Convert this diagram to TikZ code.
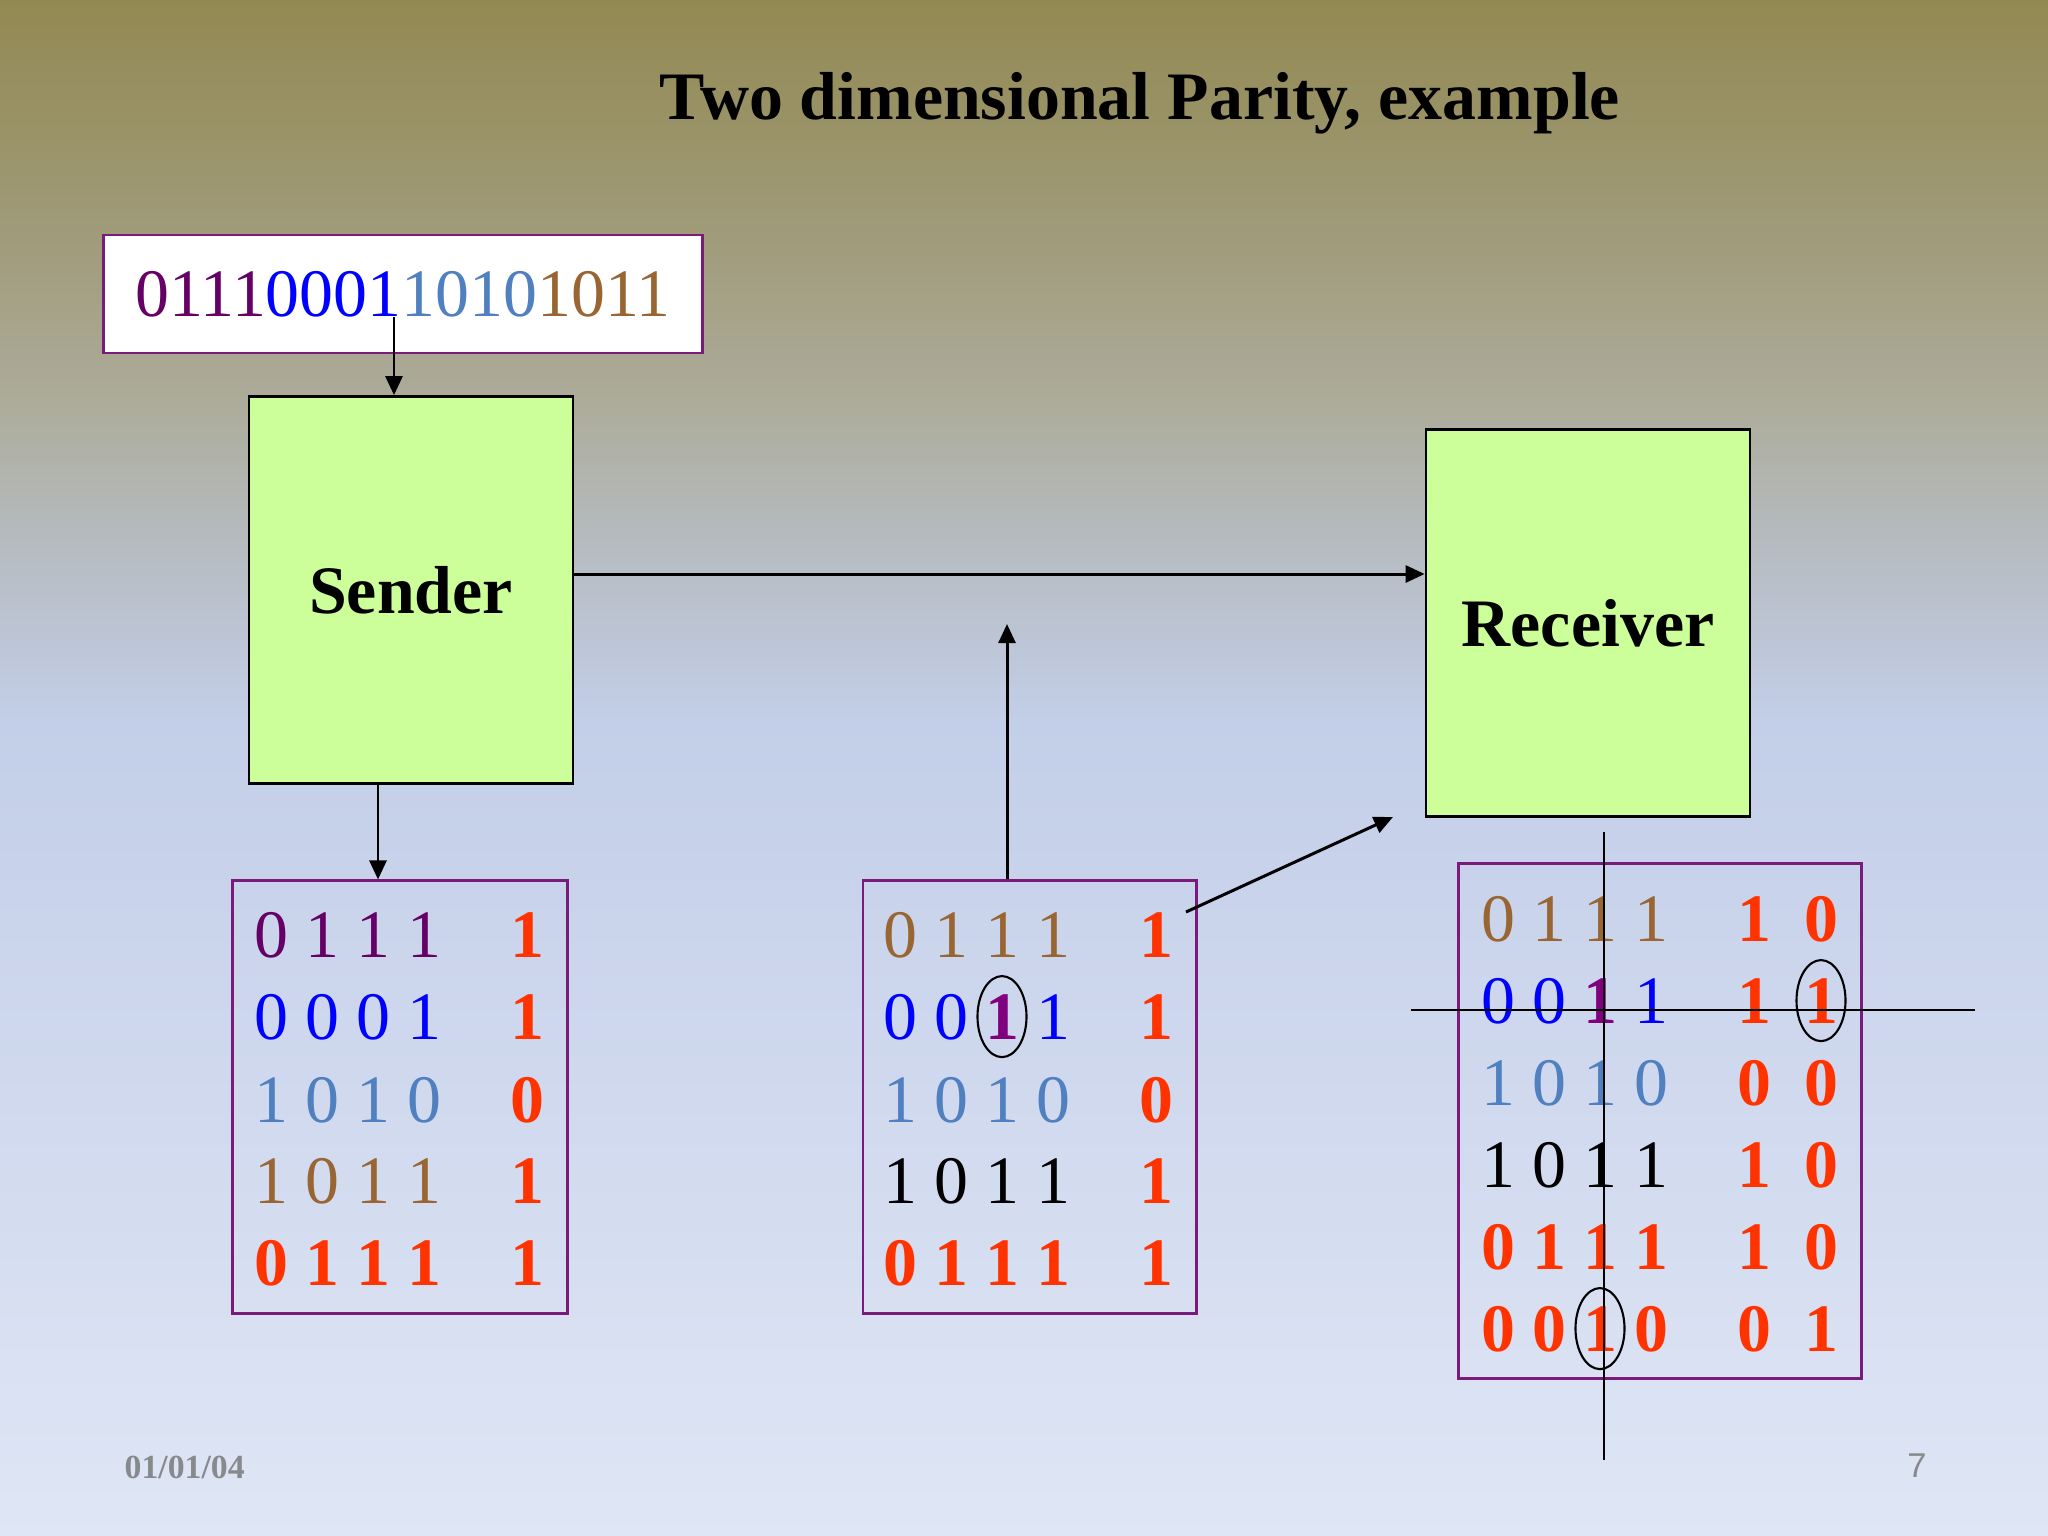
\documentclass[tikz,border=0pt]{standalone}
\usepackage{fontspec}
\setmainfont{Liberation Serif}
\newfontfamily\pagenumfont{Liberation Sans}
\usetikzlibrary{arrows.meta,shapes.geometric}

\definecolor{bgA}{HTML}{928952}
\definecolor{bgB}{HTML}{A19C7C}
\definecolor{bgC}{HTML}{AEAE9F}
\definecolor{bgD}{HTML}{B7BDC4}
\definecolor{bgE}{HTML}{C3CEE8}
\definecolor{bgF}{HTML}{DFE6F5}
\definecolor{bitpurple}{HTML}{660066}
\definecolor{bitblue}{HTML}{0000FF}
\definecolor{bitsteel}{HTML}{5080BF}
\definecolor{bitbrown}{HTML}{996633}
\definecolor{bitred}{HTML}{FF3300}
\definecolor{flipcol}{HTML}{800080}
\definecolor{boxgreen}{HTML}{CCFF99}
\definecolor{gridline}{HTML}{7A1A7A}
\definecolor{footgray}{HTML}{878A8D}

\newcommand{\bigtext}{\fontsize{19.3}{23}\selectfont}
\newcommand{\flipped}[1]{\textcolor{flipcol}{\bfseries #1}}

\tikzset{
  bit/.style={anchor=base, inner sep=0pt},
  checkbit/.style={bit, text=bitred, font=\bigtext\bfseries},
  gridbox/.style={draw=gridline, line width=0.8pt, inner sep=0pt},
  inbox/.style={draw=gridline, fill=white, line width=0.8pt,
    minimum width=5.98cm, minimum height=1.18cm, font=\bigtext},
  station/.style={draw, fill=boxgreen, line width=0.7pt,
    minimum width=3.24cm, minimum height=3.87cm, font=\bigtext\bfseries},
  link/.style={line width=0.85pt, -{Triangle[length=5.4pt,width=4.8pt]}},
  cut/.style={line width=0.75pt},
  ring/.style={draw, ellipse, line width=0.6pt, inner sep=0pt,
    minimum width=0.49cm, minimum height=0.81cm}
}

\begin{document}
\begin{tikzpicture}[x=0.01cm,y=-0.01cm]
\newcommand{\colstep}{51}
\useasboundingbox (0,0) rectangle (2048,1536);

\fill[top color=bgA, bottom color=bgB] (0,0) rectangle (2048,251);
\fill[top color=bgB, bottom color=bgC] (0,250) rectangle (2048,421);
\fill[top color=bgC, bottom color=bgD] (0,420) rectangle (2048,561);
\fill[top color=bgD, bottom color=bgE] (0,560) rectangle (2048,721);
\fill[top color=bgE, bottom color=bgF] (0,720) rectangle (2048,1536);

\node[anchor=base, font=\bigtext\bfseries] (title) at (1140,119) {Two dimensional Parity, example};

\node[inbox] (bits) at (403,294) {\textcolor{bitpurple}{0111}\textcolor{bitblue}{0001}\textcolor{bitsteel}{1010}\textcolor{bitbrown}{1011}};
\node[station] (sender) at (411,590) {Sender};
\node[station] (receiver) at (1588,623) {Receiver};

\node[gridbox, minimum width=3.34cm, minimum height=4.32cm] (sentgrid) at (400,1097) {};
\node[gridbox, minimum width=3.33cm, minimum height=4.32cm] (wiregrid) at (1029.5,1097) {};
\node[gridbox, minimum width=4.02cm, minimum height=5.14cm] (recvgrid) at (1660,1121) {};

\foreach \y/\col/\wt/\bits/\chk [count=\r] in {957/bitpurple/\mdseries/{0,1,1,1}/1,
    1039/bitblue/\mdseries/{0,0,0,1}/1, 1122/bitsteel/\mdseries/{1,0,1,0}/0,
    1203/bitbrown/\mdseries/{1,0,1,1}/1, 1285/bitred/\bfseries/{0,1,1,1}/1}{
  \foreach \b [count=\c] in \bits
    \node[bit, text=\col, font=\bigtext\wt] (s-\r-\c) at ({271+\colstep*(\c-1)},\y) {\b};
  \node[checkbit] (s-\r-p) at (527,\y) {\chk};
}

\foreach \y/\col/\wt/\bits/\chk [count=\r] in {957/bitbrown/\mdseries/{0,1,1,1}/1,
    1039/bitblue/\mdseries/{0,0,\flipped{1},1}/1, 1122/bitsteel/\mdseries/{1,0,1,0}/0,
    1203/black/\mdseries/{1,0,1,1}/1, 1285/bitred/\bfseries/{0,1,1,1}/1}{
  \foreach \b [count=\c] in \bits
    \node[bit, text=\col, font=\bigtext\wt] (w-\r-\c) at ({900+\colstep*(\c-1)},\y) {\b};
  \node[checkbit] (w-\r-p) at (1156,\y) {\chk};
}

\foreach \y/\col/\wt/\bits/\chk [count=\r] in {941/bitbrown/\mdseries/{0,1,1,1}/{1,0},
    1023/bitblue/\mdseries/{0,0,\flipped{1},1}/{1,1}, 1105/bitsteel/\mdseries/{1,0,1,0}/{0,0},
    1187/black/\mdseries/{1,0,1,1}/{1,0}, 1269/bitred/\bfseries/{0,1,1,1}/{1,0},
    1351/bitred/\bfseries/{0,0,1,0}/{0,1}}{
  \foreach \b [count=\c] in \bits
    \node[bit, text=\col, font=\bigtext\wt] (r-\r-\c) at ({1498+\colstep*(\c-1)},\y) {\b};
  \foreach \k [count=\c] in \chk
    \node[checkbit] (r-\r-p\c) at ({1754+67*(\c-1)},\y) {\k};
}

\node[ring] (ring1) at (w-2-3.center) {};
\node[ring] (ring2) at (r-2-p2.center) {};
\node[ring] (ring3) at (r-6-3.center) {};

\coordinate (tap) at (394,317);
\coordinate (lane) at (0,574);
\coordinate (drop) at (378,0);
\coordinate (rise) at (1007,624);
\coordinate (hopS) at (1186,912);
\coordinate (hopE) at (1393,817);
\draw[link] (tap) -- (tap |- sender.north);
\draw[link] (sender.east |- lane) -- (receiver.west |- lane);
\draw[link] (sender.south -| drop) -- (sentgrid.north -| drop);
\draw[link] (wiregrid.north -| rise) -- (rise);
\draw[link] (hopS) -- (hopE);

\coordinate (vtop) at (1604,832);
\coordinate (vbot) at (1604,1460);
\coordinate (hleft) at (1411,1010);
\coordinate (hright) at (1975,1010);
\draw[cut] (vtop) -- (vbot);
\draw[cut] (hleft) -- (hright);

\node[anchor=base west, inner sep=0pt, text=footgray, font=\fontsize{9.6}{11}\selectfont\bfseries] (date) at (124,1478) {01/01/04};
\node[anchor=base, inner sep=0pt, text=footgray, font=\fontsize{9.8}{11}\selectfont\pagenumfont] (pageno) at (1917,1477) {7};
\end{tikzpicture}
\end{document}
